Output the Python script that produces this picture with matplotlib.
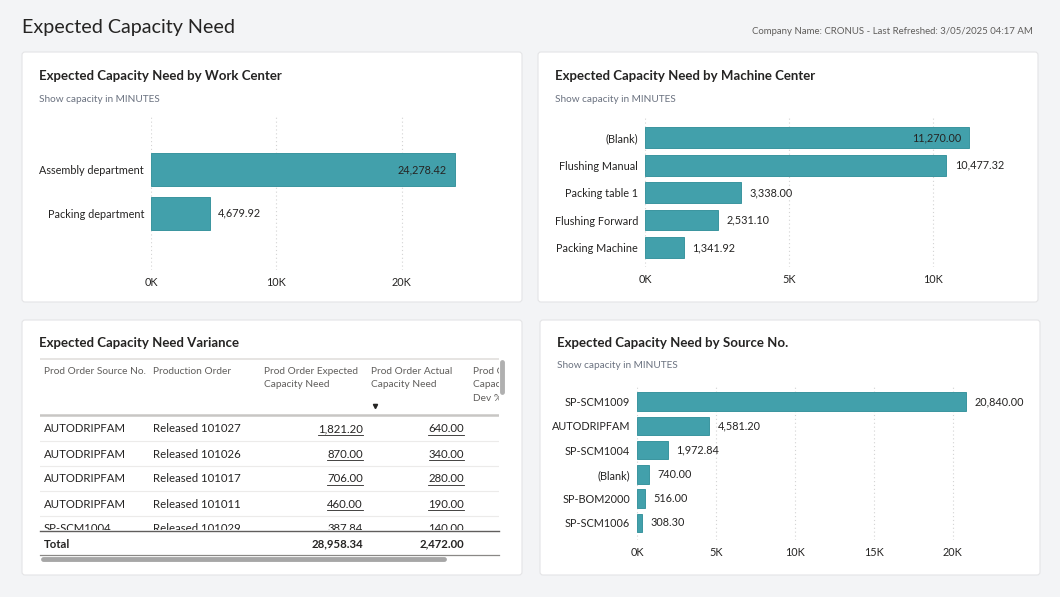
import matplotlib
matplotlib.use('Agg')
import matplotlib.pyplot as plt
from matplotlib.patches import FancyBboxPatch

plt.rcParams['font.family'] = ['Lato', 'DejaVu Sans']

W, H = 1060, 597

# --- data ---
work_centers = ['Assembly department', 'Packing department']
work_center_need = [24278.42, 4679.92]

machine_centers = ['(Blank)', 'Flushing Manual', 'Packing table 1', 'Flushing Forward', 'Packing Machine']
machine_center_need = [11270.00, 10477.32, 3338.00, 2531.10, 1341.92]

source_nos = ['SP-SCM1009', 'AUTODRIPFAM', 'SP-SCM1004', '(Blank)', 'SP-BOM2000', 'SP-SCM1006']
source_need = [20840.00, 4581.20, 1972.84, 740.00, 516.00, 308.30]

table_source = ['AUTODRIPFAM', 'AUTODRIPFAM', 'AUTODRIPFAM', 'AUTODRIPFAM', 'SP-SCM1004']
table_order = ['Released 101027', 'Released 101026', 'Released 101017', 'Released 101011', 'Released 101029']
table_expected = [1821.20, 870.00, 706.00, 460.00, 387.84]
table_actual = [640.00, 340.00, 280.00, 190.00, 140.00]
total_expected = 28958.34
total_actual = 2472.00

TEAL = '#42a0ab'
EDGE = '#3a959f'
DARK = '#252423'
GREY = '#605e5c'

fig = plt.figure(figsize=(W / 100, H / 100), dpi=100)
fig.patch.set_facecolor('#f3f4f6')

bg = fig.add_axes([0, 0, 1, 1])
bg.set_xlim(0, W)
bg.set_ylim(H, 0)
bg.axis('off')


def px_axes(x0, y0, x1, y1):
    return fig.add_axes([x0 / W, 1 - y1 / H, (x1 - x0) / W, (y1 - y0) / H])


# cards
for (x0, y0, x1, y1) in [(22, 52, 522, 302), (538, 52, 1038, 302), (22, 320, 522, 575), (540, 320, 1040, 575)]:
    bg.add_patch(FancyBboxPatch((x0, y0), x1 - x0, y1 - y0, boxstyle='round,pad=0,rounding_size=3',
                                facecolor='white', edgecolor='#e4e4e6', lw=0.8))

bg.text(22, 28, 'Expected Capacity Need', fontsize=14.2, color=DARK, va='center', ha='left')
bg.text(1033, 31, 'Company Name: CRONUS - Last Refreshed: 3/05/2025 04:17 AM', fontsize=6.9,
        color=GREY, va='center', ha='right')

cards = [(39, 76, 'Expected Capacity Need by Work Center', True),
         (555, 76, 'Expected Capacity Need by Machine Center', True),
         (39, 343, 'Expected Capacity Need Variance', False),
         (557, 343, 'Expected Capacity Need by Source No.', True)]
for x, y, title, sub in cards:
    bg.text(x, y, title, fontsize=9.5, fontweight='bold', color=DARK, va='center', ha='left')
    if sub:
        bg.text(x, y + 23, 'Show capacity in MINUTES', fontsize=7.2, color='#6b7280', va='center', ha='left')


def bar_panel(ax, labels, values, xmax, ticks, ylim):
    ax.barh(range(len(values)), values, height=0.76, color=TEAL, edgecolor=EDGE, lw=0.7, zorder=2)
    ax.set_xlim(0, xmax)
    ax.set_ylim(ylim)
    ax.set_yticks(range(len(labels)))
    ax.set_yticklabels(labels, fontsize=7.8, color=DARK)
    ax.set_xticks(ticks)
    ax.set_xticklabels([f'{t // 1000}K' for t in ticks], fontsize=7.8, color=DARK)
    ax.tick_params(axis='y', length=0, pad=5)
    ax.tick_params(axis='x', length=0, pad=5)
    ax.grid(axis='x', color='#d3d3d3', linestyle=(0, (1, 2.5)), lw=0.8, zorder=0)
    for s in ax.spines.values():
        s.set_visible(False)
    ax.set_facecolor('none')
    texts = []
    for i, v in enumerate(values):
        t = ax.annotate(f'{v:,.2f}', (v, i), xytext=(6, 0), textcoords='offset points',
                        fontsize=7.8, color=DARK, va='center', ha='left', zorder=3)
        texts.append((t, v, i))
    return texts


ax1 = px_axes(151, 115, 502, 270)
lab1 = bar_panel(ax1, work_centers, work_center_need, 28000, [0, 10000, 20000], (2.3, -1.26))

ax2 = px_axes(645, 117, 1019, 267)
lab2 = bar_panel(ax2, machine_centers, machine_center_need, 13000, [0, 5000, 10000], (4.71, -0.75))

ax4 = px_axes(637, 385, 1030, 540)
lab4 = bar_panel(ax4, source_nos, source_need, 24900, [0, 5000, 10000, 15000, 20000], (5.7, -0.68))

# move labels inside the bar when they don't fit on the right
fig.canvas.draw()
renderer = fig.canvas.get_renderer()
for ax, labs in [(ax1, lab1), (ax2, lab2), (ax4, lab4)]:
    right = ax.get_window_extent().x1
    for t, v, i in labs:
        if t.get_window_extent(renderer).x1 > right + 2:
            t.set_position((-6, 0))
            t.set_ha('right')

# --- table ---
tab = px_axes(40, 357, 499, 530)
tab.set_xlim(40, 499)
tab.set_ylim(530, 357)
tab.axis('off')

tab.plot([40, 499], [359, 359], color='#e1dfdd', lw=1.2)
tab.plot([40, 499], [415, 415], color='#c8c6c4', lw=1.8)
for y in [441, 466, 491, 516]:
    tab.plot([40, 499], [y, y], color='#ecebea', lw=0.8)

hdr = dict(fontsize=7.3, color=GREY, va='top', ha='left', clip_on=True, linespacing=1.7)
tab.text(44, 366.5, 'Prod Order Source No.', **hdr)
tab.text(153, 366.5, 'Production Order', **hdr)
tab.text(264, 366.5, 'Prod Order Expected\nCapacity Need', **hdr)
tab.text(371, 366.5, 'Prod Order Actual\nCapacity Need', **hdr)
tab.text(473, 366.5, 'Prod Order\nCapacity Need\nDev %', **hdr)
tab.plot([375], [406], marker='v', color=DARK, ms=3)

row_y = [429, 454, 479, 504, 529]
body = dict(fontsize=8.2, color=DARK, va='center', clip_on=True)
value_texts = []
for y, src, order, e, a in zip(row_y, table_source, table_order, table_expected, table_actual):
    tab.text(44, y, src, ha='left', **body)
    tab.text(153, y, order, ha='left', **body)
    value_texts.append((tab.text(363, y, f'{e:,.2f}', ha='right', **body), y))
    value_texts.append((tab.text(464, y, f'{a:,.2f}', ha='right', **body), y))

# underline the value cells
fig.canvas.draw()
for t, y in value_texts:
    bb = t.get_window_extent(renderer)
    x0 = bb.x0 * W / fig.bbox.width
    x1 = bb.x1 * W / fig.bbox.width
    tab.plot([x0, x1], [y + 6, y + 6], color=DARK, lw=0.6, clip_on=True)

bg.plot([40, 499], [530.5, 530.5], color=GREY, lw=1.0)
bg.text(44, 544, 'Total', fontsize=8.2, fontweight='bold', color=DARK, va='center', ha='left')
bg.text(363, 544, f'{total_expected:,.2f}', fontsize=8.2, fontweight='bold', color=DARK, va='center', ha='right')
bg.text(464, 544, f'{total_actual:,.2f}', fontsize=8.2, fontweight='bold', color=DARK, va='center', ha='right')
bg.plot([40, 499], [555, 555], color='#8a8886', lw=0.9)
bg.plot([43, 444], [559, 559], color='#a6a6a6', lw=3.5, solid_capstyle='round')
bg.plot([502, 502], [362, 392], color='#b0b0b0', lw=3.5, solid_capstyle='round')

fig.savefig('out.png', dpi=100, facecolor=fig.get_facecolor())
